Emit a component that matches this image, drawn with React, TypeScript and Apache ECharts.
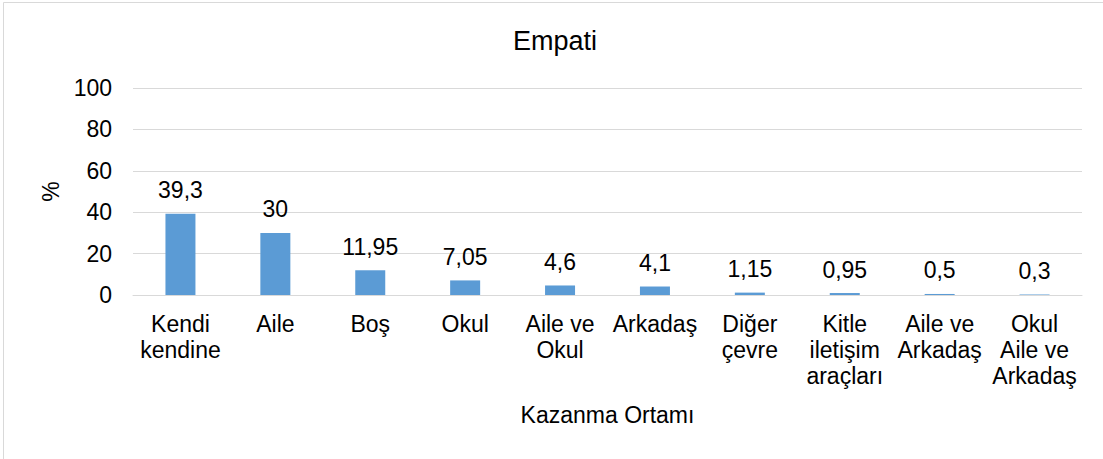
import React, { useEffect, useRef } from "react";
import * as echarts from "echarts";

const categories = [
  "Kendi\nkendine",
  "Aile",
  "Boş",
  "Okul",
  "Aile ve\nOkul",
  "Arkadaş",
  "Diğer\nçevre",
  "Kitle\niletişim\naraçları",
  "Aile ve\nArkadaş",
  "Okul\nAile ve\nArkadaş",
];
const values = [39.3, 30, 11.95, 7.05, 4.6, 4.1, 1.15, 0.95, 0.5, 0.3];
const valueLabels = ["39,3", "30", "11,95", "7,05", "4,6", "4,1", "1,15", "0,95", "0,5", "0,3"];
const yTicks = { min: 0, max: 100, interval: 20 };

const FONT = "'Liberation Sans', Arial, sans-serif";

export default function App() {
  const ref = useRef<HTMLDivElement>(null);
  useEffect(() => {
    if (!ref.current) return;
    const chart = echarts.init(ref.current, null, { renderer: "svg" });
    chart.setOption({
      animation: false,
      backgroundColor: "#ffffff",
      textStyle: { fontFamily: FONT, color: "#000" },
      title: {
        text: "Empati",
        left: 508,
        top: 22,
        textStyle: { fontFamily: FONT, fontSize: 27, fontWeight: "normal", color: "#000" },
      },
      graphic: [
        { type: "line", shape: { x1: 3.5, y1: 2.5, x2: 3.5, y2: 470 }, style: { stroke: "#d9d9d9", lineWidth: 1 } },
        { type: "line", shape: { x1: 3.5, y1: 2.5, x2: 1110, y2: 2.5 }, style: { stroke: "#d9d9d9", lineWidth: 1 } },
      ],
      grid: { left: 133, right: 21, top: 88, bottom: 164 },
      xAxis: {
        type: "category",
        data: categories,
        name: "Kazanma Ortamı",
        nameLocation: "middle",
        nameGap: 108,
        nameTextStyle: { fontFamily: FONT, fontSize: 23, color: "#000" },
        axisLine: { lineStyle: { color: "#d9d9d9", width: 1 } },
        axisTick: { show: false },
        axisLabel: {
          interval: 0,
          margin: 16,
          fontFamily: FONT,
          fontSize: 23,
          lineHeight: 26,
          color: "#000",
          verticalAlign: "top",
        },
      },
      yAxis: {
        type: "value",
        min: yTicks.min,
        max: yTicks.max,
        interval: yTicks.interval,
        name: "%",
        nameLocation: "middle",
        nameGap: 70,
        nameTextStyle: { fontFamily: FONT, fontSize: 23, color: "#000" },
        axisLine: { show: false },
        axisTick: { show: false },
        axisLabel: { margin: 21, fontFamily: FONT, fontSize: 23, color: "#000" },
        splitLine: { lineStyle: { color: "#d9d9d9", width: 1 } },
      },
      series: [
        {
          type: "bar",
          data: values,
          barWidth: 30,
          itemStyle: { color: "#5b9bd5" },
          label: {
            show: true,
            position: "top",
            distance: 12,
            fontFamily: FONT,
            fontSize: 23,
            color: "#000",
            formatter: (p: any) => valueLabels[p.dataIndex],
          },
        },
      ],
    });
    return () => chart.dispose();
  }, []);
  return (
    <div
      ref={ref}
      style={{ position: "fixed", left: 0, top: 0, width: 1103, height: 459 }}
    />
  );
}
